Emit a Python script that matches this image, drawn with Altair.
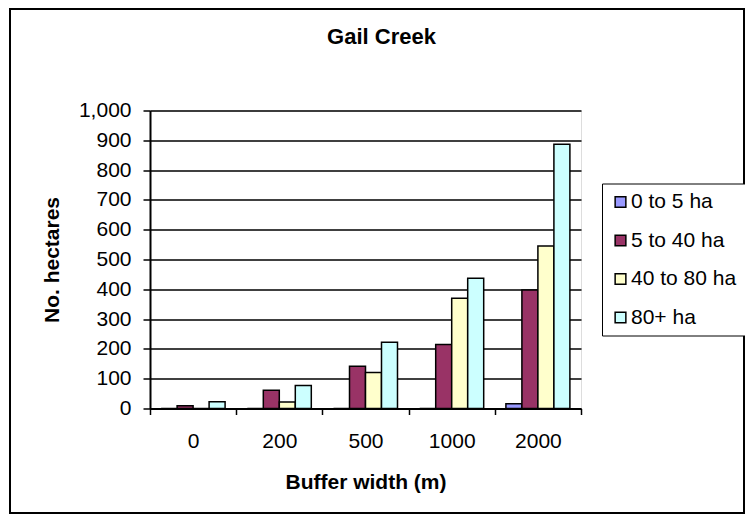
import altair as alt
import pandas as pd

buffers = ["0", "200", "500", "1000", "2000"]
classes = ["0 to 5 ha", "5 to 40 ha", "40 to 80 ha", "80+ ha"]
v_0_5 = [0, 0, 0, 0, 16]
v_5_40 = [9, 61, 142, 215, 398]
v_40_80 = [0, 22, 121, 370, 545]
v_80 = [23, 77, 222, 437, 887]
colors = ["#9999FF", "#993366", "#FFFFCC", "#CCFFFF"]
y_ticks = list(range(0, 1001, 100))

rows = []
for cls, vals in zip(classes, [v_0_5, v_5_40, v_40_80, v_80]):
    for b, v in zip(buffers, vals):
        rows.append({"buffer": b, "cls": cls, "value": v})
df = pd.DataFrame(rows)

FONT = "Liberation Sans"

bars = alt.Chart(df).mark_bar(stroke="black", strokeWidth=1.5).encode(
    x=alt.X(
        "buffer:N", sort=buffers,
        scale=alt.Scale(paddingInner=0, paddingOuter=0),
        axis=alt.Axis(
            title="Buffer width (m)", labelAngle=0, tickBand="extent", grid=False,
            domainColor="black", domainWidth=2, tickColor="black", tickWidth=1.5,
            tickSize=6, labelPadding=16, labelFont=FONT, labelFontSize=21,
            labelColor="black", titleFont=FONT, titleFontSize=21,
            titleFontWeight="bold", titleColor="black", titlePadding=20,
        ),
    ),
    xOffset=alt.XOffset(
        "cls:N", sort=classes,
        scale=alt.Scale(paddingInner=0, paddingOuter=0.694),
    ),
    y=alt.Y(
        "value:Q",
        scale=alt.Scale(domain=[0, 1000], nice=False),
        axis=alt.Axis(
            title="No. hectares", values=y_ticks, format=",.0f", grid=True,
            gridColor="black", gridWidth=1.5, domainColor="black", domainWidth=2,
            tickColor="black", tickWidth=1.5, tickSize=7, labelPadding=12,
            labelFont=FONT, labelFontSize=21, labelColor="black",
            titleFont=FONT, titleFontSize=21, titleFontWeight="bold",
            titleColor="black", titlePadding=16,
        ),
    ),
    color=alt.Color(
        "cls:N", sort=classes,
        scale=alt.Scale(domain=classes, range=colors),
        legend=alt.Legend(
            title=None, orient="none", legendX=452, legendY=73,
            labelFont=FONT, labelFontSize=21, labelColor="black",
            symbolType="square", symbolSize=115, symbolStrokeColor="black",
            symbolStrokeWidth=1.5, rowPadding=16.5, labelOffset=0, padding=8,
            strokeColor="black", fillColor="white",
        ),
    ),
)

frame = alt.Chart(pd.DataFrame({"a": [0]})).mark_rect(
    filled=False, stroke="black", strokeWidth=2
).encode(
    x=alt.value(-140), x2=alt.value(594), y=alt.value(-101.5), y2=alt.value(402.5)
)

chart = alt.layer(bars, frame).properties(
    width=431,
    height=298,
    title=alt.TitleParams(
        "Gail Creek", font=FONT, fontSize=22, fontWeight="bold", anchor="middle",
        dx=16, offset=-63, baseline="bottom", color="black",
    ),
    autosize=alt.AutoSizeParams(type="none"),
    padding={"left": 142, "top": 102.5, "right": 164, "bottom": 105.5},
).configure_view(
    fill="#C0C0C0", stroke="#808080", strokeWidth=2
).configure(background="white")

chart.save("out.html", embed_options={"renderer": "svg", "actions": False})
